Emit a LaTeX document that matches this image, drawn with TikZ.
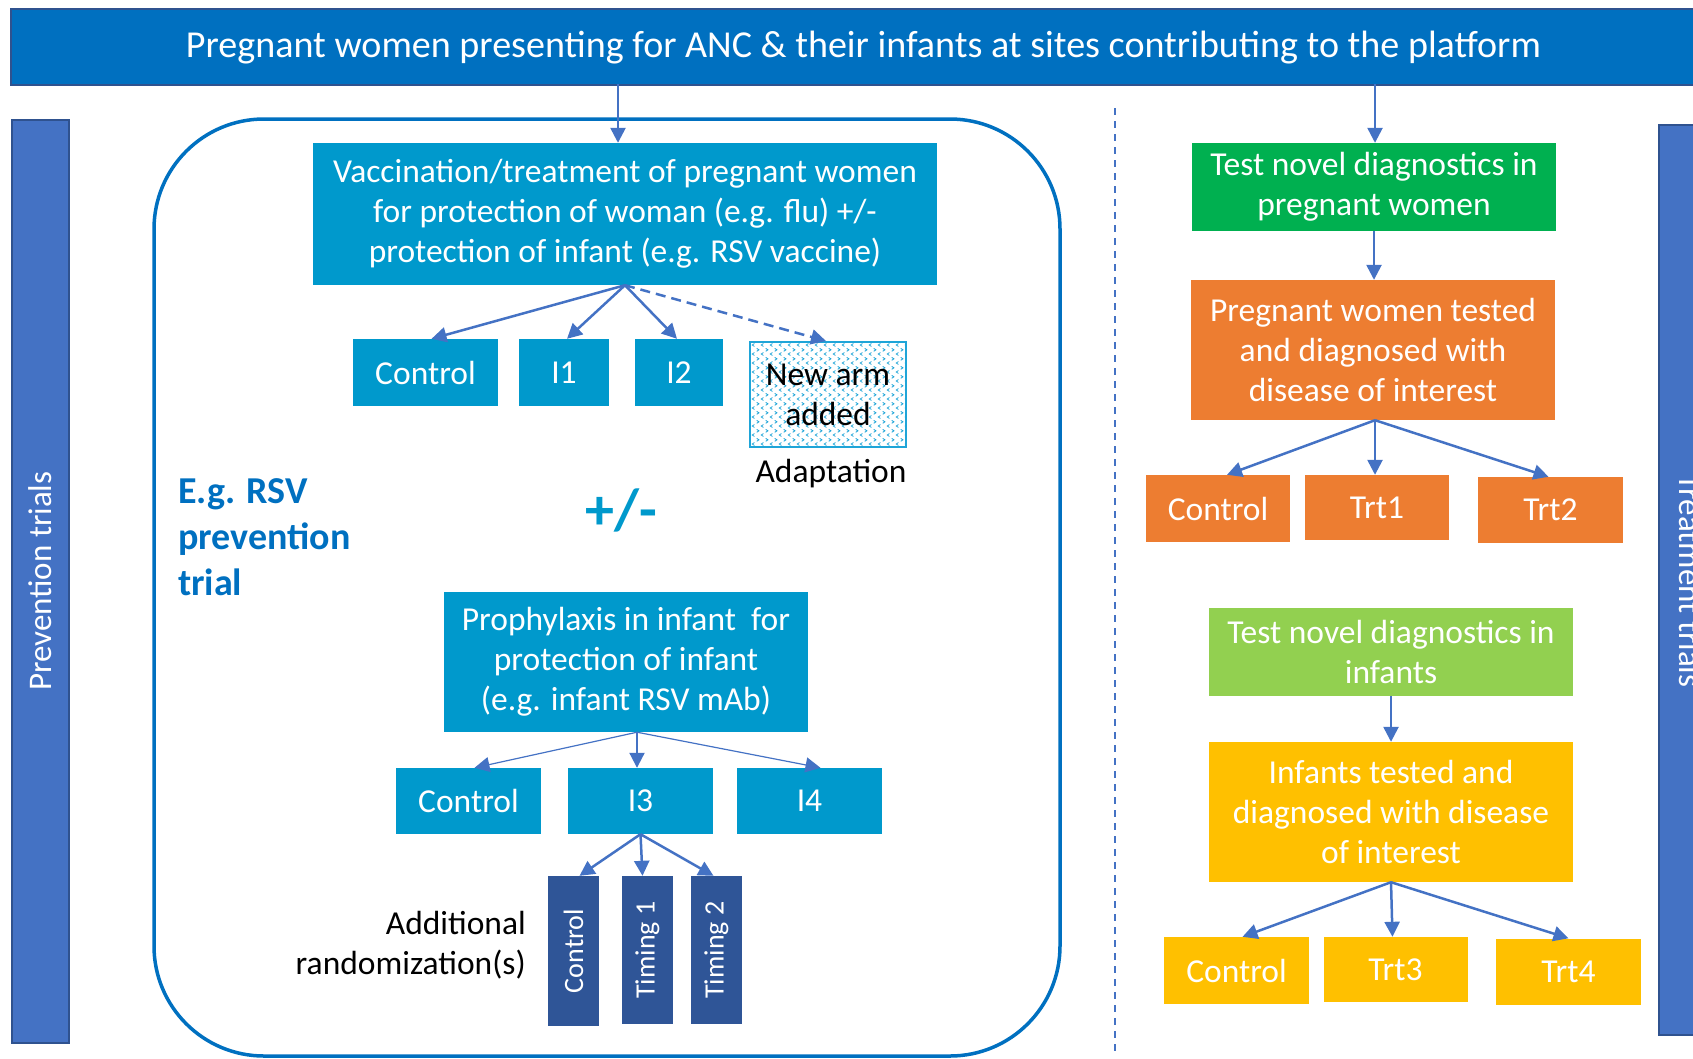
\documentclass[tikz,border=0pt]{standalone}
\usepackage{fontspec}
\setmainfont{Carlito}
\usetikzlibrary{arrows.meta,patterns.meta,calc}
\definecolor{bannerblue}{HTML}{0070C0}
\definecolor{barblue}{HTML}{4472C4}
\definecolor{bardark}{HTML}{2F528F}
\definecolor{boxblue}{HTML}{0099CC}
\definecolor{navybox}{HTML}{2F5597}
\definecolor{arrowblue}{HTML}{4472C4}
\definecolor{cgreen}{HTML}{00B050}
\definecolor{corange}{HTML}{ED7D31}
\definecolor{clgreen}{HTML}{92D050}
\definecolor{cyellow}{HTML}{FFC000}
\definecolor{patblue}{HTML}{1FA5D8}
\tikzdeclarepattern{
  name=chevrons,
  type=uncolored,
  bounding box={(0pt,0pt) and (9pt,9pt)},
  tile size={(9pt,9pt)},
  code={
    \draw[line width=0.9pt] (0.8pt,5.2pt) -- (3.2pt,6.8pt) -- (0.8pt,8.4pt);
    \draw[line width=0.9pt] (8.2pt,0.6pt) -- (5.8pt,2.2pt) -- (8.2pt,3.8pt);
  }
}
\tikzset{
  box/.style={rectangle, inner sep=2pt, align=center, text=white,
    font=\fontsize{33.5}{40}\selectfont},
  vbox/.style={rectangle, inner sep=0pt, fill=navybox, minimum width=51pt},
  vtext/.style={text=white, font=\fontsize{28}{32}\selectfont, rotate=90, inner sep=0pt},
  arr/.style={draw=arrowblue, line width=2.5pt, -{Triangle[length=15pt,width=15pt]}},
  thinarr/.style={arr, line width=1.2pt},
  plain/.style={align=center, font=\fontsize{33.5}{40}\selectfont, inner sep=0pt},
}
\begin{document}
\begin{tikzpicture}[x=1pt,y=-1pt]
\useasboundingbox (0,0) rectangle (1693,1058);
\clip (0,0) rectangle (1693,1058);

% banner
\node[fill=bannerblue, draw=bardark, line width=1.5pt, minimum width=1710pt,
  minimum height=76pt, anchor=north west, inner sep=0pt, text=white] (banner) at (10,8)
  {};
\node[inner sep=0pt, text=white] (bannertext) at (863.5,48)
  {\resizebox{1355pt}{!}{\fontsize{36}{40}\selectfont Pregnant women presenting for ANC \& their infants at sites contributing to the platform}};

% side bars
\node[fill=barblue, draw=bardark, line width=1.5pt, minimum width=57pt,
  minimum height=923pt, anchor=north west, inner sep=0pt] (prevbar) at (11,119) {};
\node[rotate=90, text=white, font=\fontsize{33}{40}\selectfont, inner sep=0pt] (prevtext) at (prevbar.center) {Prevention trials};
\node[fill=barblue, draw=bardark, line width=1.5pt, minimum width=62pt,
  minimum height=910pt, anchor=north west, inner sep=0pt] (treatbar) at (1658,124) {};
\node[rotate=-90, text=white, font=\fontsize{33}{40}\selectfont, inner sep=0pt] (treattext) at (1691,581) {Treatment trials};

% frame and divider
\draw[bannerblue, line width=3.5pt, rounded corners=110pt] (154,119) rectangle (1060,1056);
\coordinate (d1) at (1115,108);
\coordinate (d2) at (1115,1052);
\draw[arrowblue, line width=2pt, dash pattern=on 7pt off 6pt] (d1) -- (d2);

% left block
\node[box, fill=boxblue, minimum width=624pt, minimum height=142pt] (top) at (625,214)
  {\raisebox{-3pt}{\parbox{620pt}{\centering Vaccination/treatment of pregnant women\\for protection of woman (e.g. flu) +/-\\protection of infant (e.g. RSV vaccine)}}};
\node[box, fill=boxblue, minimum width=145pt, minimum height=67pt] (c1) at (425.5,372.5) {Control};
\node[box, fill=boxblue, minimum width=90pt, minimum height=67pt] (i1) at (564,372.5) {I1};
\node[box, fill=boxblue, minimum width=88pt, minimum height=67pt] (i2) at (679,372.5) {I2};
\node[box, text=black, draw=patblue, line width=2pt, pattern={chevrons}, pattern color=patblue,
  minimum width=156pt, minimum height=105pt] (newarm) at (828,394.5) {New arm\\added};
\node[plain] (adapt) at (831,474) {Adaptation};

\node[align=left, inner sep=0pt, text=bannerblue, font=\bfseries\fontsize{38}{46}\selectfont,
  anchor=west] (eg) at (178,537) {E.g. RSV\\prevention\\trial};
\node[inner sep=0pt, text=boxblue, font=\bfseries\fontsize{58}{60}\selectfont] (pm) at (621,510) {+/-};

\node[box, fill=boxblue, minimum width=364pt, minimum height=140pt] (pro) at (626,662)
  {Prophylaxis in infant \ for\\protection of infant\\(e.g. infant RSV mAb)};
\node[box, fill=boxblue, minimum width=145pt, minimum height=66pt] (c2) at (468.5,801) {Control};
\node[box, fill=boxblue, minimum width=145pt, minimum height=66pt] (i3) at (640.5,801) {I3};
\node[box, fill=boxblue, minimum width=145pt, minimum height=66pt] (i4) at (809.5,801) {I4};

\node[vbox, minimum height=150pt] (vc) at (573.5,951) {};
\node[vtext] (vctext) at (vc.center) {Control};
\node[vbox, minimum height=148pt] (vt1) at (647.5,950) {};
\node[vtext] (vt1text) at (vt1.center) {Timing 1};
\node[vbox, minimum height=148pt] (vt2) at (716.5,950) {};
\node[vtext] (vt2text) at (vt2.center) {Timing 2};
\node[plain, align=right, anchor=east] (addl) at (526,945) {Additional\\randomization(s)};

% right block
\node[box, fill=cgreen, minimum width=364pt, minimum height=88pt] (green) at (1374,187)
  {Test novel diagnostics in\\pregnant women};
\node[box, fill=corange, minimum width=364pt, minimum height=140pt] (orange) at (1373,350)
  {Pregnant women tested\\and diagnosed with\\disease of interest};
\node[box, fill=corange, minimum width=144pt, minimum height=67pt] (oc) at (1218,508.5) {Control};
\node[box, fill=corange, minimum width=144pt, minimum height=65pt] (trt1) at (1377,507.5) {Trt1};
\node[box, fill=corange, minimum width=145pt, minimum height=66pt] (trt2) at (1550.5,510) {Trt2};

\node[box, fill=clgreen, minimum width=364pt, minimum height=88pt] (lgreen) at (1391,651.5)
  {Test novel diagnostics in\\infants};
\node[box, fill=cyellow, minimum width=364pt, minimum height=140pt] (yellow) at (1391,812)
  {Infants tested and\\diagnosed with disease\\of interest};
\node[box, fill=cyellow, minimum width=145pt, minimum height=67pt] (yc) at (1236.5,970.5) {Control};
\node[box, fill=cyellow, minimum width=144pt, minimum height=65pt] (trt3) at (1395.5,969.5) {Trt3};
\node[box, fill=cyellow, minimum width=145pt, minimum height=66pt] (trt4) at (1568.5,971.5) {Trt4};

% connectors
\coordinate (b1) at (618,84);
\coordinate (b2) at (1375,84);
\draw[arr] (b1) -- (b1 |- top.north);
\draw[arr] (b2) -- (b2 |- green.north);

\draw[arr] (top.south) -- ($(c1.north)+(6,0)$);
\draw[arr] (top.south) -- ($(i1.north)+(3,0)$);
\draw[arr] (top.south) -- ($(i2.north)+(-2,0)$);
\draw[arr, dash pattern=on 10pt off 6pt] (top.south) -- ($(newarm.north)+(-2,0)$);

\coordinate (po) at ($(pro.south)+(11,0)$);
\draw[thinarr] (po) -- ($(c2.north)+(6,0)$);
\draw[arr, line width=2pt] (po) -- (po |- i3.north);
\draw[thinarr] (po) -- ($(i4.north)+(11,0)$);

\draw[arr] (i3.south) -- ($(vc.north)+(6,0)$);
\draw[arr] (i3.south) -- ($(vt1.north)+(-5,0)$);
\draw[arr] (i3.south) -- ($(vt2.north)+(-3,0)$);

\draw[arr] (green.south) -- (green.south |- orange.north);
\coordinate (oo) at ($(orange.south)+(2,0)$);
\draw[arr] (oo) -- ($(oc.north)+(9,0)$);
\draw[arr] (oo) -- (oo |- trt1.north);
\draw[arr] (oo) -- ($(trt2.north)+(-2,0)$);

\draw[arr] (lgreen.south) -- (lgreen.south |- yellow.north);
\draw[arr] (yellow.south) -- ($(yc.north)+(6,0)$);
\draw[arr] (yellow.south) -- ($(trt3.north)+(-3,0)$);
\draw[arr] (yellow.south) -- (trt4.north);
\end{tikzpicture}
\end{document}
